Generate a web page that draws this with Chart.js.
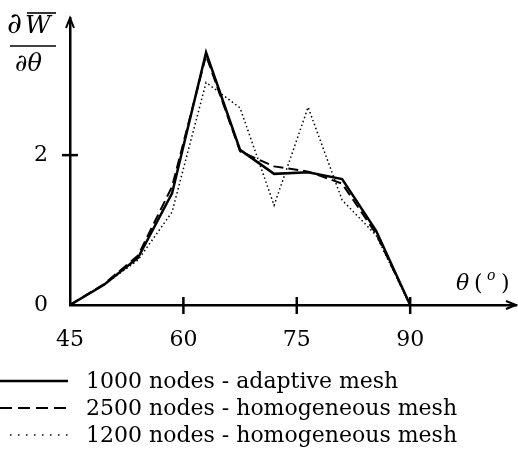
<!DOCTYPE html>
<html>
<head>
<meta charset="utf-8">
<script src="https://cdn.jsdelivr.net/npm/chart.js@4"></script>
<style>
  html, body { margin: 0; padding: 0; background: #fff; }
  #wrap { width: 518px; height: 452px; position: relative; }
</style>
</head>
<body>
<div id="wrap"><canvas id="derivChart"></canvas></div>
<script>
// -----------------------------
// Data
// -----------------------------
const angles = [45, 49.5, 54, 58.5, 63, 67.5, 72, 76.5, 81, 85.5, 90];
const adaptive1000 = [0, 0.27, 0.63, 1.49, 3.37, 2.07, 1.75, 1.77, 1.68, 0.99, 0];
const homog2500 = [0, 0.28, 0.66, 1.58, 3.33, 2.05, 1.85, 1.78, 1.62, 0.95, 0];
const homog1200 = [0, 0.27, 0.60, 1.24, 2.97, 2.63, 1.33, 2.64, 1.40, 0.93, 0];

const seriesLabels = [
  "1000 nodes - adaptive mesh",
  "2500 nodes - homogeneous mesh",
  "1200 nodes - homogeneous mesh"
];
const xTicks = [45, 60, 75, 90];
const yTicks = [0, 2];

const FONT = "'DejaVu Serif', 'Liberation Serif', serif";
const FONT_SIZE = 22;

function toPoints(ys) {
  return angles.map((a, i) => ({ x: a, y: ys[i] }));
}

// -----------------------------
// Axes decorations + legend
// -----------------------------
const decorPlugin = {
  id: "decor",
  afterDraw(chart) {
    const ctx = chart.ctx;
    const x = chart.scales.x;
    const y = chart.scales.y;
    const area = chart.chartArea;
    const x0 = x.getPixelForValue(45);
    const y0 = y.getPixelForValue(0);

    ctx.save();
    ctx.strokeStyle = "#000";
    ctx.fillStyle = "#000";
    ctx.lineWidth = 2.5;

    // tick marks crossing the axes
    xTicks.slice(1).forEach(v => {
      const px = x.getPixelForValue(v);
      ctx.beginPath();
      ctx.moveTo(px, y0 - 8);
      ctx.lineTo(px, y0 + 9);
      ctx.stroke();
    });
    yTicks.slice(1).forEach(v => {
      const py = y.getPixelForValue(v);
      ctx.beginPath();
      ctx.moveTo(x0 - 8, py);
      ctx.lineTo(x0 + 8, py);
      ctx.stroke();
    });

    // arrow heads
    ctx.lineWidth = 2;
    ctx.beginPath();
    ctx.moveTo(x0 - 4, area.top + 10);
    ctx.lineTo(x0, area.top);
    ctx.lineTo(x0 + 4, area.top + 10);
    ctx.stroke();
    ctx.beginPath();
    ctx.moveTo(area.right - 10, y0 - 4);
    ctx.lineTo(area.right, y0);
    ctx.lineTo(area.right - 10, y0 + 4);
    ctx.stroke();

    // x axis title: theta( o )
    ctx.textBaseline = "alphabetic";
    ctx.textAlign = "left";
    ctx.font = "italic " + FONT_SIZE + "px " + FONT;
    ctx.fillText("\u03b8", 456, 290);
    ctx.font = FONT_SIZE + "px " + FONT;
    ctx.fillText("(", 474, 290);
    ctx.font = "italic 14px " + FONT;
    ctx.fillText("o", 487, 280);
    ctx.font = FONT_SIZE + "px " + FONT;
    ctx.fillText(")", 501, 290);

    // y axis title: dW/dtheta fraction
    ctx.font = "italic 29px " + FONT;
    ctx.fillText("\u2202", 7, 33);
    ctx.font = "italic 25px " + FONT;
    ctx.fillText("W", 25, 33);
    ctx.lineWidth = 1.6;
    ctx.beginPath();
    ctx.moveTo(27, 13);
    ctx.lineTo(56, 13);
    ctx.stroke();
    ctx.beginPath();
    ctx.moveTo(10, 46);
    ctx.lineTo(56, 46);
    ctx.stroke();
    ctx.font = "italic 24px " + FONT;
    ctx.fillText("\u2202\u03b8", 15, 71);

    // legend under the plot
    const rows = [381, 408, 435];
    ctx.font = FONT_SIZE + "px " + FONT;
    ctx.textBaseline = "middle";
    chart.data.datasets.forEach((ds, i) => {
      const ry = rows[i];
      ctx.save();
      ctx.lineWidth = ds.borderWidth;
      ctx.setLineDash(ds.legendDash || []);
      ctx.beginPath();
      ctx.moveTo(i === 2 ? 10 : 0, ry);
      ctx.lineTo(68, ry);
      ctx.stroke();
      ctx.restore();
      ctx.fillText(ds.label, 86, ry + 1);
    });

    ctx.restore();
  }
};

function noPad(scale) {
  scale.paddingTop = 0;
  scale.paddingBottom = 0;
  scale.paddingLeft = 0;
  scale.paddingRight = 0;
}

new Chart(document.getElementById("derivChart"), {
  type: "line",
  data: {
    datasets: [
      {
        label: seriesLabels[0],
        data: toPoints(adaptive1000),
        borderColor: "#000",
        borderWidth: 2.5,
        pointRadius: 0,
        tension: 0
      },
      {
        label: seriesLabels[1],
        data: toPoints(homog2500),
        borderColor: "#000",
        borderWidth: 2,
        borderDash: [10, 5],
        legendDash: [12, 6],
        pointRadius: 0,
        tension: 0
      },
      {
        label: seriesLabels[2],
        data: toPoints(homog1200),
        borderColor: "#000",
        borderWidth: 1.5,
        borderDash: [1.5, 2.7],
        legendDash: [1.5, 6.5],
        pointRadius: 0,
        tension: 0
      }
    ]
  },
  options: {
    responsive: true,
    maintainAspectRatio: false,
    animation: false,
    layout: { padding: { top: 18, right: 2, left: 0, bottom: 0 } },
    plugins: {
      legend: { display: false },
      tooltip: { enabled: false }
    },
    scales: {
      x: {
        type: "linear",
        min: 45,
        max: 104,
        afterBuildTicks: scale => { scale.ticks = xTicks.map(v => ({ value: v })); },
        afterFit: scale => { scale.height = 147; noPad(scale); },
        grid: { display: false, drawTicks: false },
        border: { display: true, color: "#000", width: 2.5 },
        ticks: {
          color: "#000",
          padding: 22,
          maxRotation: 0,
          font: { family: FONT, size: FONT_SIZE }
        }
      },
      y: {
        type: "linear",
        min: 0,
        max: 3.83,
        afterBuildTicks: scale => { scale.ticks = yTicks.map(v => ({ value: v })); },
        afterFit: scale => { scale.width = 70; noPad(scale); },
        grid: { display: false, drawTicks: false },
        border: { display: true, color: "#000", width: 2.5 },
        ticks: {
          color: "#000",
          padding: 22,
          font: { family: FONT, size: FONT_SIZE }
        }
      }
    }
  },
  plugins: [decorPlugin]
});
</script>
</body>
</html>
